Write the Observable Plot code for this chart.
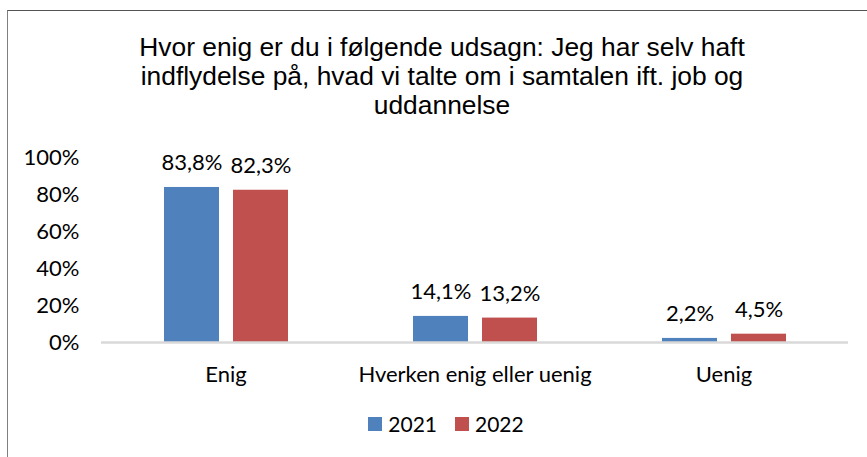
<!DOCTYPE html>
<html>
<head>
<meta charset="utf-8">
<script src="https://cdn.jsdelivr.net/npm/d3@7"></script>
<script src="https://cdn.jsdelivr.net/npm/@observablehq/plot@0.6"></script>
<style>
  html, body { margin: 0; padding: 0; background: #fff; }
  body { width: 867px; height: 457px; position: relative; overflow: hidden; }
  #frame { position: absolute; left: 7px; top: 10px; width: 900px; height: 500px;
           border-left: 1.5px solid #808080; border-top: 1.5px solid #555; box-sizing: border-box; }
  #title { position: absolute; left: 0; top: 33px; width: 884px; text-align: center;
           font-family: "Liberation Sans", Arial, sans-serif; font-size: 25px; line-height: 29px; color: #000;
           transform: scaleX(1.055); transform-origin: 442px 0; }
  #chart { position: absolute; left: 0; top: 130px; }
  #legend { position: absolute; left: 0; top: 411px; width: 892px; display: flex; justify-content: center; gap: 18px;
            font-family: Lato, sans-serif; font-size: 21px; color: #000; }
  .item { display: flex; align-items: center; gap: 6px; }
  .sw { width: 14px; height: 14px; display: inline-block; }
</style>
</head>
<body>
<div id="frame"></div>
<div id="title"></div>
<div id="chart"></div>
<div id="legend"></div>
<script>
const titleLines = ["Hvor enig er du i følgende udsagn: Jeg har selv haft", "indflydelse på, hvad vi talte om i samtalen ift. job og", "uddannelse"];
const categories = ["Enig", "Hverken enig eller uenig", "Uenig"];
const years = ["2021", "2022"];
const values2021 = [83.8, 14.1, 2.2];
const values2022 = [82.3, 13.2, 4.5];
const yTicks = [0, 20, 40, 60, 80, 100];
const colors = ["#4F81BD", "#C0504D"];

const data = [];
categories.forEach((c, i) => {
  data.push({category: c, year: years[0], value: values2021[i]});
  data.push({category: c, year: years[1], value: values2022[i]});
});
const fmt = v => d3.format(".1f")(v).replace(".", ",") + "%";

document.getElementById("title").innerHTML = titleLines.join("<br>");

const plot = Plot.plot({
  width: 867,
  height: 265,
  marginLeft: 100,
  marginRight: 19,
  marginTop: 27,
  marginBottom: 53,
  style: {fontFamily: "Lato, sans-serif", fontSize: "22px", color: "#000", background: "transparent"},
  fx: {domain: categories, padding: 0, label: null, axis: "bottom", tickSize: 0, tickPadding: 24},
  x: {domain: years, paddingInner: 0.21, paddingOuter: 0.89, axis: null},
  y: {domain: [0, 100], ticks: yTicks, tickFormat: d => d + "%", tickSize: 0, tickPadding: 22, label: null},
  color: {domain: years, range: colors},
  marks: [
    Plot.barY(data, {fx: "category", x: "year", y: "value", fill: "year"}),
    Plot.ruleY([0], {stroke: "#d9d9d9", strokeWidth: 2.5}),
    Plot.text(data, {fx: "category", x: "year", y: "value", text: d => fmt(d.value),
      lineAnchor: "bottom", dy: -17, fontSize: 22, fill: "#000"})
  ]
});
document.getElementById("chart").appendChild(plot);

const legend = document.getElementById("legend");
years.forEach((y, i) => {
  const item = document.createElement("div");
  item.className = "item";
  item.innerHTML = `<span class="sw" style="background:${colors[i]}"></span><span>${y}</span>`;
  legend.appendChild(item);
});
</script>
</body>
</html>
